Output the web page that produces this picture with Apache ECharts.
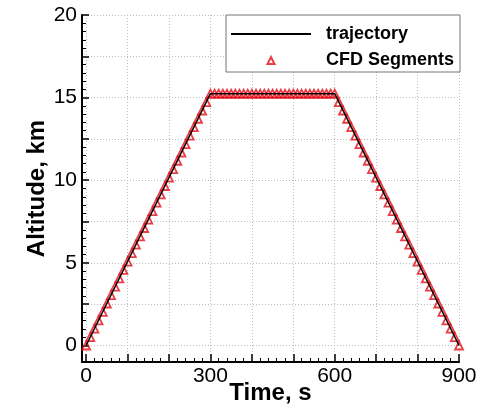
<!DOCTYPE html>
<html>
<head>
<meta charset="utf-8">
<script src="https://cdn.jsdelivr.net/npm/echarts@6/dist/echarts.min.js"></script>
<style>html,body{margin:0;padding:0;background:#fff;}#c{width:492px;height:406px;}</style>
</head>
<body>
<div id="c"></div>
<script>
// trajectory vertices
var trajTime = [0, 300, 600, 900];
var trajAlt = [0, 15.24, 15.24, 0];
// CFD segment points
var cfdTime = [0,10,20,30,40,50,60,70,80,90,100,110,120,130,140,150,160,170,180,190,200,210,220,230,240,250,260,270,280,290,300,
  310,320,330,340,350,360,370,380,390,400,410,420,430,440,450,460,470,480,490,500,510,520,530,540,550,560,570,580,590,
  600,610,620,630,640,650,660,670,680,690,700,710,720,730,740,750,760,770,780,790,800,810,820,830,840,850,860,870,880,890,900];
var cfdAlt = [0,0.51,1.02,1.52,2.03,2.54,3.05,3.56,4.06,4.57,5.08,5.59,6.10,6.60,7.11,7.62,8.13,8.64,9.14,9.65,10.16,10.67,11.18,11.68,12.19,12.70,13.21,13.72,14.22,14.73,15.24,
  15.24,15.24,15.24,15.24,15.24,15.24,15.24,15.24,15.24,15.24,15.24,15.24,15.24,15.24,15.24,15.24,15.24,15.24,15.24,15.24,15.24,15.24,15.24,15.24,15.24,15.24,15.24,15.24,15.24,
  15.24,14.73,14.22,13.72,13.21,12.70,12.19,11.68,11.18,10.67,10.16,9.65,9.14,8.64,8.13,7.62,7.11,6.60,6.10,5.59,5.08,4.57,4.06,3.56,3.05,2.54,2.03,1.52,1.02,0.51,0];
// axis ticks
var xLabels = [0, 300, 600, 900];
var xMajor = [0,100,200,300,400,500,600,700,800,900];
var xMinor = [20,40,60,80,120,140,160,180,220,240,260,280,320,340,360,380,420,440,460,480,520,540,560,580,620,640,660,680,720,740,760,780,820,840,860,880];
var yLabels = [0, 5, 10, 15, 20];
var yMajor = [0,2.5,5,7.5,10,12.5,15,17.5,20];
var yMinor = [0.5,1,1.5,2,3,3.5,4,4.5,5.5,6,6.5,7,8,8.5,9,9.5,10.5,11,11.5,12,13,13.5,14,14.5,15.5,16,16.5,17,18,18.5,19,19.5];

var FONT = "'Liberation Sans', Arial, Helvetica, sans-serif";
function zip(a, b) { return a.map(function (v, i) { return [v, b[i]]; }); }

var chart = echarts.init(document.getElementById('c'), null, {renderer: 'canvas'});
var gridLine = {show: true, lineStyle: {color: '#bdbdbd', type: [1, 2], width: 1}};
chart.setOption({
  animation: false,
  backgroundColor: '#fff',
  grid: {left: 82, right: 33, top: 15, bottom: 44, containLabel: false, outerBoundsMode: 'none'},
  legend: {
    left: 226, top: 15, orient: 'vertical',
    itemWidth: 80, itemHeight: 8, itemGap: 8,
    padding: [10, 6, 3, 4],
    borderColor: '#777', borderWidth: 1, backgroundColor: '#fff',
    textStyle: {fontFamily: FONT, fontSize: 18, fontWeight: 'bold', color: '#000', padding: [0, 0, 0, 10]},
    data: [
      {name: 'trajectory', icon: 'path://M0,0L80,0L80,2L0,2Z'},
      {name: 'CFD Segments', icon: 'path://M0,0M80,8M36.5,8L40,1L43.5,8Z'}
    ]
  },
  xAxis: [{
    type: 'value', min: -10, max: 900,
    name: 'Time, s', nameLocation: 'middle', nameGap: 19, nameMoveOverlap: false,
    nameTextStyle: {fontFamily: FONT, fontSize: 24, fontWeight: 'bold', color: '#000', verticalAlign: 'top'},
    axisLine: {show: true, onZero: false, lineStyle: {color: '#000', width: 2}},
    axisTick: {show: true, inside: true, length: 8, customValues: xMajor, lineStyle: {color: '#000', width: 1.5}},
    axisLabel: {show: true, customValues: xLabels, margin: 4, fontFamily: FONT, fontSize: 21, color: '#000'},
    splitLine: gridLine
  }, {
    type: 'value', min: -10, max: 900, position: 'bottom',
    axisLine: {show: false, onZero: false},
    axisTick: {show: true, inside: true, length: 4, customValues: xMinor, lineStyle: {color: '#000', width: 1}},
    axisLabel: {show: false},
    splitLine: {show: false}
  }],
  yAxis: [{
    type: 'value', min: -1, max: 20,
    name: 'Altitude, km', nameLocation: 'middle', nameGap: 33, nameMoveOverlap: false,
    nameTextStyle: {fontFamily: FONT, fontSize: 24, fontWeight: 'bold', color: '#000'},
    axisLine: {show: true, onZero: false, lineStyle: {color: '#000', width: 2}},
    axisTick: {show: true, inside: true, length: 7, customValues: yMajor, lineStyle: {color: '#000', width: 1.5}},
    axisLabel: {show: true, customValues: yLabels, margin: 5, fontFamily: FONT, fontSize: 21, color: '#000'},
    splitLine: gridLine
  }, {
    type: 'value', min: -1, max: 20, position: 'left',
    axisLine: {show: false, onZero: false},
    axisTick: {show: true, inside: true, length: 4, customValues: yMinor, lineStyle: {color: '#000', width: 1}},
    axisLabel: {show: false},
    splitLine: {show: false}
  }],
  series: [{
    name: 'CFD Segments', type: 'scatter',
    xAxisIndex: 0, yAxisIndex: 0,
    symbol: 'triangle', symbolSize: 8,
    itemStyle: {color: 'rgba(255,255,255,0)', borderColor: '#e30e16', borderWidth: 1.8},
    data: zip(cfdTime, cfdAlt), z: 2
  }, {
    name: 'trajectory', type: 'line',
    xAxisIndex: 0, yAxisIndex: 0,
    showSymbol: false, symbol: 'none',
    lineStyle: {color: '#000', width: 1.5},
    itemStyle: {color: '#000'},
    data: zip(trajTime, trajAlt), z: 3
  }]
});
</script>
</body>
</html>
